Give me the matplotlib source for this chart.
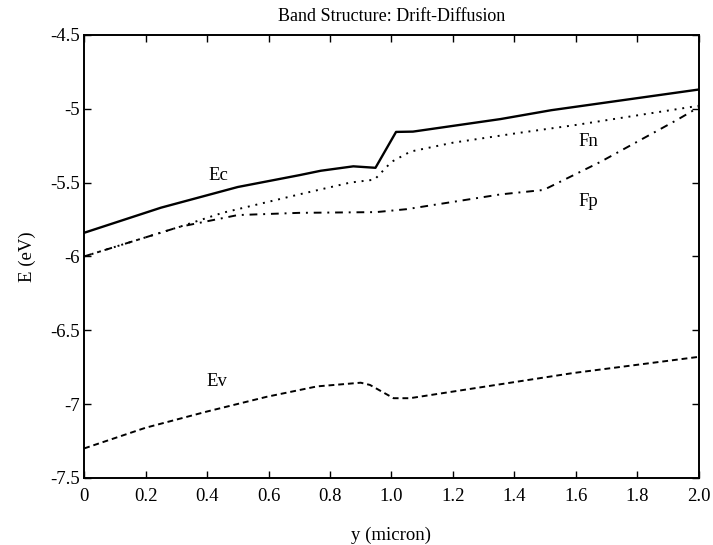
import matplotlib
matplotlib.use("Agg")
import matplotlib.pyplot as plt

plt.rcParams['font.family'] = ['Liberation Serif', 'DejaVu Serif']

# Conduction band edge
ec_x = [0.0, 0.25, 0.5, 0.70, 0.77, 0.876, 0.948, 1.015, 1.07, 1.355, 1.52, 2.0]
ec_y = [-5.84, -5.67, -5.53, -5.45, -5.42, -5.39, -5.40, -5.157, -5.155, -5.07, -5.01, -4.87]

# Electron quasi-Fermi level
fn_x = [0.0, 0.31, 0.45, 0.70, 0.866, 0.945, 1.0, 1.062, 1.2, 1.41, 1.6, 2.0]
fn_y = [-6.00, -5.80, -5.705, -5.58, -5.50, -5.48, -5.36, -5.29, -5.23, -5.165, -5.11, -4.98]

# Hole quasi-Fermi level
fp_x = [0.0, 0.31, 0.5, 0.70, 0.95, 1.05, 1.355, 1.495, 1.68, 1.93, 2.0]
fp_y = [-6.00, -5.80, -5.72, -5.705, -5.70, -5.68, -5.58, -5.55, -5.36, -5.075, -4.99]

# Valence band edge
ev_x = [0.0, 0.2, 0.4, 0.595, 0.758, 0.90, 0.93, 1.007, 1.06, 1.59, 2.0]
ev_y = [-7.30, -7.16, -7.05, -6.95, -6.88, -6.855, -6.87, -6.96, -6.96, -6.79, -6.68]

xticks = [0, 0.2, 0.4, 0.6, 0.8, 1.0, 1.2, 1.4, 1.6, 1.8, 2.0]
xtick_labels = ['0', '0.2', '0.4', '0.6', '0.8', '1.0', '1.2', '1.4', '1.6', '1.8', '2.0']
yticks = [-7.5, -7, -6.5, -6, -5.5, -5, -4.5]
ytick_labels = ['-7.5', '-7', '-6.5', '-6', '-5.5', '-5', '-4.5']

fig = plt.figure(figsize=(7.13, 5.45), dpi=100)
ax = fig.add_axes([0.118, 0.123, 0.862, 0.813])

ax.plot(ec_x, ec_y, color='black', linewidth=1.7, linestyle='-')
ax.plot(fn_x, fn_y, color='black', linewidth=1.4, linestyle=(0, (1, 3)))
ax.plot(fp_x, fp_y, color='black', linewidth=1.4, linestyle=(0, (4, 3, 1, 3)))
ax.plot(ev_x, ev_y, color='black', linewidth=1.4, linestyle=(0, (3, 2)))

ax.text(0.437, -5.45, 'Ec', fontsize=13.5, ha='center', va='center')
ax.text(1.64, -5.22, 'Fn', fontsize=13.5, ha='center', va='center')
ax.text(1.64, -5.63, 'Fp', fontsize=13.5, ha='center', va='center')
ax.text(0.433, -6.85, 'Ev', fontsize=13.5, ha='center', va='center')

ax.set_xlim(0, 2)
ax.set_ylim(-7.5, -4.5)
ax.set_xticks(xticks)
ax.set_xticklabels(xtick_labels)
ax.set_yticks(yticks)
ax.set_yticklabels(ytick_labels)
ax.tick_params(direction='in', top=True, right=True, labelsize=13.5, length=5, width=1)
ax.tick_params(axis='x', pad=7)
ax.tick_params(axis='y', pad=3)
for s in ax.spines.values():
    s.set_linewidth(1.4)

ax.set_title('Band Structure: Drift-Diffusion', fontsize=13, pad=10)
ax.set_xlabel('y (micron)', fontsize=13.5, labelpad=16)
ax.set_ylabel('E (eV)', fontsize=13.5, labelpad=10)

fig.savefig('out.png', dpi=100)
